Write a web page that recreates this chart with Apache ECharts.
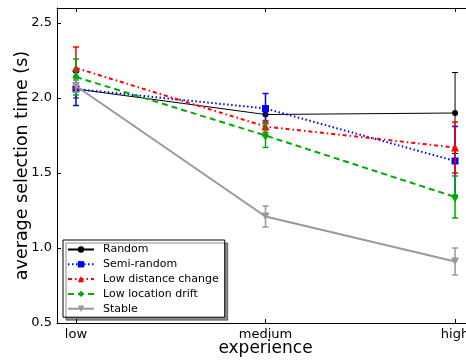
<!DOCTYPE html>
<html><head><meta charset="utf-8">
<script src="https://cdn.jsdelivr.net/npm/echarts@6/dist/echarts.min.js"></script>
<style>html,body{margin:0;padding:0;background:#fff}#c{width:466px;height:361px}</style>
</head><body><div id="c"></div>
<script>
const categories = ['low', 'medium', 'high'];
const yTicks = [0.5, 1.0, 1.5, 2.0, 2.5];
const seriesNames = ['Random', 'Semi-random', 'Low distance change', 'Low location drift', 'Stable'];
const randomVals = [2.06, 1.89, 1.90];
const randomErr = [0.06, 0.05, 0.27];
const semiRandomVals = [2.06, 1.93, 1.58];
const semiRandomErr = [0.11, 0.10, 0.23];
const lowDistVals = [2.20, 1.81, 1.67];
const lowDistErr = [0.14, 0.04, 0.17];
const lowDriftVals = [2.14, 1.75, 1.34];
const lowDriftErr = [0.12, 0.08, 0.14];
const stableVals = [2.08, 1.21, 0.91];
const stableErr = [0.04, 0.07, 0.09];

const FONT = 'DejaVu Sans';
const styles = [
  {color:'#000000', width:1, type:'solid', symbol:'circle', size:6},
  {color:'#0000ff', width:2, type:[1.5,2.5], symbol:'rect', size:7},
  {color:'#ff0000', width:2, type:[4,3,1.5,3], symbol:'triangle', size:8},
  {color:'#00aa00', width:2, type:[6,4], symbol:'diamond', size:[7,10]},
  {color:'#999999', width:2, type:'solid', symbol:'path://M0,0 L10,0 L5,10 Z', size:8}
];
const allVals = [randomVals, semiRandomVals, lowDistVals, lowDriftVals, stableVals];
const allErr = [randomErr, semiRandomErr, lowDistErr, lowDriftErr, stableErr];

const series = [];
seriesNames.forEach((name, i) => {
  const st = styles[i];
  series.push({
    type: 'line', name: name, z: 3 + i * 2,
    data: allVals[i].map((v, k) => [k, v]),
    symbol: st.symbol, symbolSize: st.size, showSymbol: true,
    lineStyle: {color: st.color, width: st.width, type: st.type},
    itemStyle: {color: st.color, borderColor: st.color, borderWidth: 0},
    animation: false
  });
});
seriesNames.forEach((name, i) => {
  const st = styles[i];
  series.push({
    type: 'custom', name: name + ' error', z: 2 + i * 2,
    data: allVals[i].map((v, k) => [k, v - allErr[i][k], v + allErr[i][k]]),
    renderItem: (params, api) => {
      const lo = api.coord([api.value(0), api.value(1)]);
      const hi = api.coord([api.value(0), api.value(2)]);
      const cw = 3;
      const s = {stroke: st.color, lineWidth: st.width === 1 ? 1 : 1.5};
      return {type: 'group', children: [
        {type: 'line', shape: {x1: lo[0], y1: lo[1], x2: hi[0], y2: hi[1]}, style: s},
        {type: 'line', shape: {x1: lo[0]-cw, y1: lo[1], x2: lo[0]+cw, y2: lo[1]}, style: s},
        {type: 'line', shape: {x1: hi[0]-cw, y1: hi[1], x2: hi[0]+cw, y2: hi[1]}, style: s}
      ]};
    },
    silent: true
  });
});

const chart = echarts.init(document.getElementById('c'), null, {renderer: 'canvas'});
chart.setOption({
  animation: false,
  backgroundColor: '#ffffff',
  grid: {left: 57, top: 8, right: -8, bottom: 38, containLabel: false, outerBoundsMode: 'none'},
  xAxis: [{
    type: 'value', min: -0.1, max: 2.1,
    name: 'experience', nameLocation: 'middle', nameGap: 17, nameMoveOverlap: false,
    nameTextStyle: {fontFamily: FONT, fontSize: 17, color: '#000'},
    axisLine: {show: true, onZero: false, lineStyle: {color: '#000', width: 1}},
    axisTick: {show: true, inside: true, length: 4, customValues: [0, 1, 2], lineStyle: {color: '#000'}},
    axisLabel: {show: true, customValues: [0, 1, 2], formatter: v => categories[Math.round(v)], fontFamily: FONT, fontSize: 13, color: '#000', margin: 5},
    splitLine: {show: false}
  }, {
    type: 'value', min: -0.1, max: 2.1, position: 'top',
    axisLine: {show: true, onZero: false, lineStyle: {color: '#000', width: 1}},
    axisTick: {show: true, inside: true, length: 4, customValues: [0, 1, 2], lineStyle: {color: '#000'}},
    axisLabel: {show: false}, splitLine: {show: false}
  }],
  yAxis: [{
    type: 'value', min: 0.5, max: 2.6,
    name: 'average selection time (s)', nameLocation: 'middle', nameGap: 26, nameMoveOverlap: false,
    nameTextStyle: {fontFamily: FONT, fontSize: 17.5, color: '#000'},
    axisLine: {show: true, onZero: false, lineStyle: {color: '#000', width: 1}},
    axisTick: {show: true, inside: true, length: 4, customValues: yTicks, lineStyle: {color: '#000'}},
    axisLabel: {show: true, customValues: yTicks, formatter: v => v.toFixed(1), fontFamily: FONT, fontSize: 13, color: '#000', margin: 5},
    splitLine: {show: false}
  }],
  legend: {
    data: seriesNames,
    orient: 'vertical', left: 63, top: 240,
    itemWidth: 26, itemHeight: 8, itemGap: 3.8,
    padding: [4, 6, 3, 4],
    backgroundColor: '#ffffff', borderColor: '#000', borderWidth: 1, borderRadius: 0,
    shadowColor: 'rgba(0,0,0,0.45)', shadowOffsetX: 3, shadowOffsetY: 3, shadowBlur: 0,
    textStyle: {fontFamily: FONT, fontSize: 11, color: '#000', padding: [0, 0, 0, 4]},
    selectedMode: false
  },
  series: series
});
</script></body></html>
